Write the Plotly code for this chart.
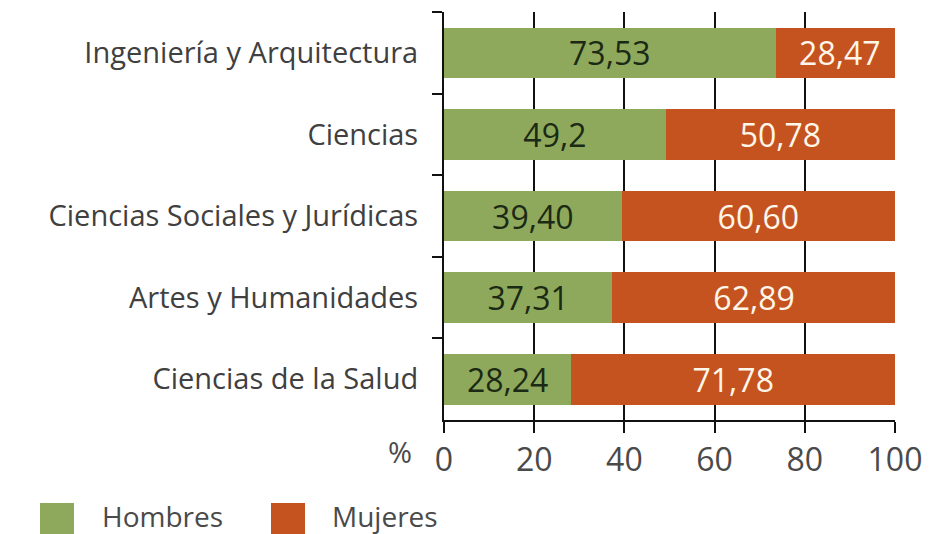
import plotly.graph_objects as go

categories = ["Ingeniería y Arquitectura", "Ciencias", "Ciencias Sociales y Jurídicas",
              "Artes y Humanidades", "Ciencias de la Salud"]
hombres = [73.53, 49.2, 39.40, 37.31, 28.24]
mujeres = [28.47, 50.78, 60.60, 62.89, 71.78]
hombres_txt = ["73,53", "49,2", "39,40", "37,31", "28,24"]
mujeres_txt = ["28,47", "50,78", "60,60", "62,89", "71,78"]
x_ticks = [0, 20, 40, 60, 80, 100]

GREEN = "#8fa95c"
ORANGE = "#c4531f"
FONT = "Open Sans"
TXT = "#404040"

# page geometry (the html body has an 8px margin)
OFF = 8
PX0, PX1, PY0, PY1 = 444, 895, 12, 420
W, H = 932 - OFF, 534 - OFF


def px(x):
    return (x - PX0) / (PX1 - PX0)


def py(y):
    return (PY1 - y) / (PY1 - PY0)


fig = go.Figure()
fig.add_trace(go.Bar(y=categories, x=hombres, orientation="h", name="Hombres",
                     marker=dict(color=GREEN, line=dict(width=0)),
                     text=hombres_txt, textposition="inside", insidetextanchor="middle",
                     textfont=dict(color="#1b2a14", size=32, family=FONT),
                     width=0.62, showlegend=False))
fig.add_trace(go.Bar(y=categories, x=mujeres, orientation="h", name="Mujeres",
                     marker=dict(color=ORANGE, line=dict(width=0)),
                     text=mujeres_txt, textposition="inside", insidetextanchor="middle",
                     textfont=dict(color="#fff6ea", size=32, family=FONT),
                     width=0.62, showlegend=False))

fig.update_layout(
    barmode="stack",
    width=W, height=H,
    margin=dict(l=PX0 - OFF, r=W - (PX1 - OFF), t=PY0 - OFF, b=H - (PY1 - OFF), autoexpand=False),
    paper_bgcolor="white", plot_bgcolor="white",
    font=dict(family=FONT, color=TXT, size=27),
    uniformtext=dict(minsize=10, mode="show"),
)
fig.update_xaxes(range=[0, 100], tickvals=x_ticks, ticktext=[str(v) for v in x_ticks],
                 showgrid=True, gridcolor="#111", gridwidth=2,
                 showline=True, linecolor="#111", linewidth=2,
                 ticks="outside", ticklen=11, tickwidth=2, tickcolor="#111",
                 tickfont=dict(size=32, color="#4a4a4a", family=FONT), zeroline=False,
                 layer="below traces", automargin=False)
fig.update_yaxes(autorange="reversed", type="category", tickson="boundaries",
                 showgrid=False, showline=True, linecolor="#111", linewidth=2,
                 ticks="outside", ticklen=10, tickwidth=2, tickcolor="#111",
                 tickfont=dict(size=29, color=TXT, family=FONT), ticklabelstandoff=18,
                 automargin=False)

fig.add_annotation(text="%", xref="paper", yref="paper", x=px(414), y=py(451),
                   xanchor="right", yanchor="middle", showarrow=False,
                   font=dict(size=29, color="#4a4a4a", family=FONT))

legend_names = ["Hombres", "Mujeres"]
legend_colors = [GREEN, ORANGE]
legend_sq_x = [40, 271]
legend_tx_x = [100, 330]
for name, col, sx, tx in zip(legend_names, legend_colors, legend_sq_x, legend_tx_x):
    fig.add_shape(type="rect", xref="paper", yref="paper",
                  x0=px(sx), x1=px(sx + 34), y0=py(537), y1=py(503),
                  fillcolor=col, line=dict(width=0))
    fig.add_annotation(text=name, xref="paper", yref="paper",
                       x=px(tx), y=py(516),
                       xanchor="left", yanchor="middle", showarrow=False,
                       font=dict(size=28, color="#4a4a4a", family=FONT))

fig.write_html("out.html")
